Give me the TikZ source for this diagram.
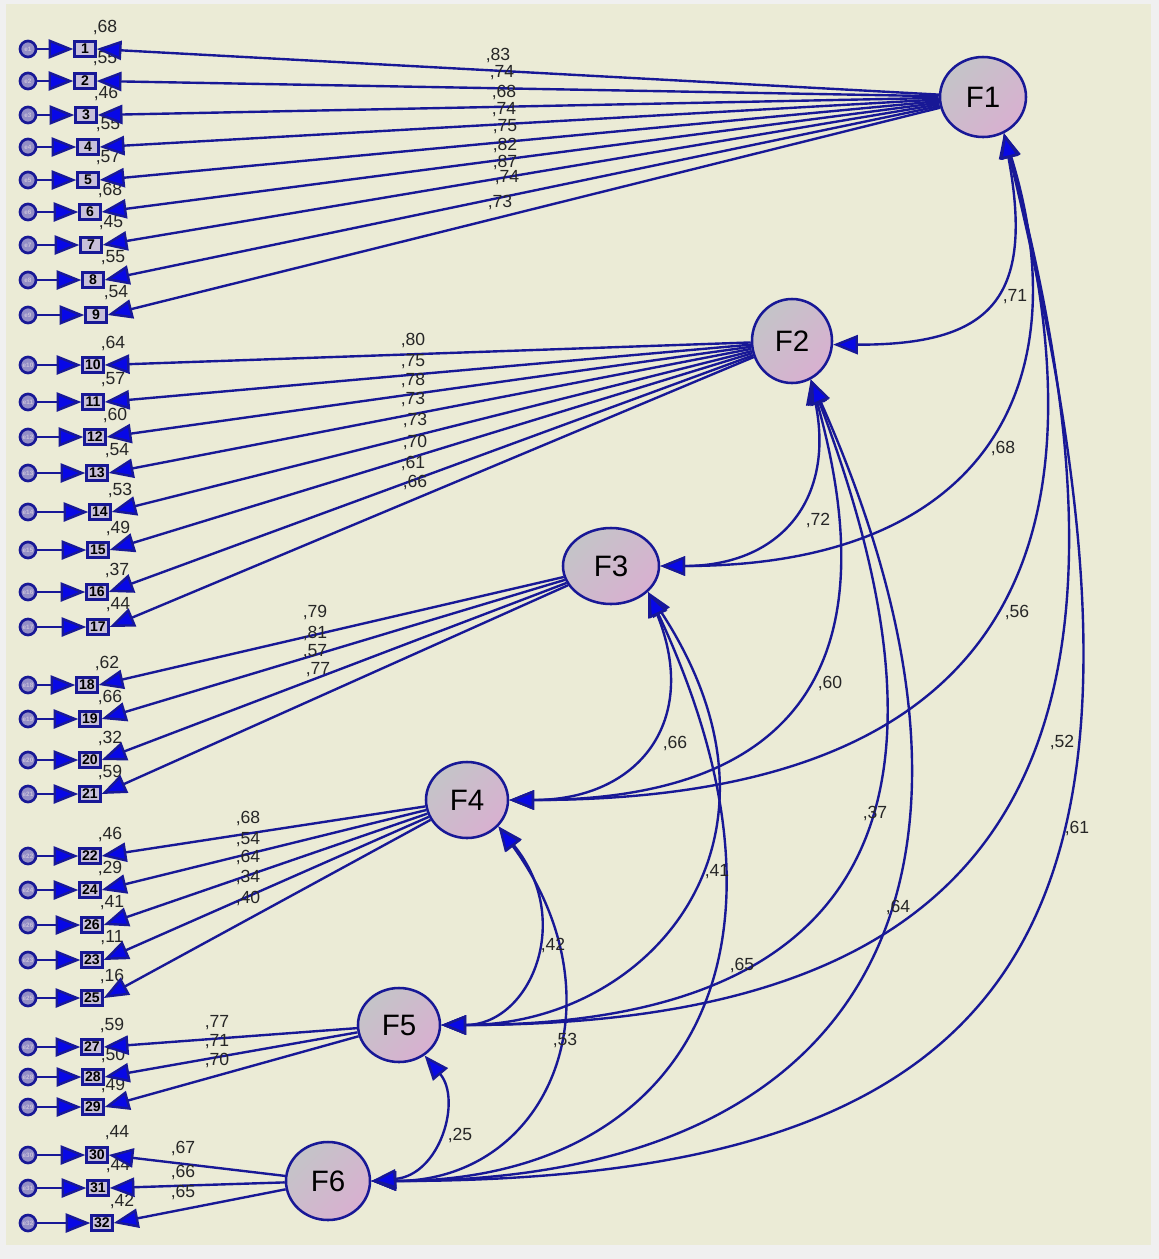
\documentclass[tikz,border=0pt]{standalone}
\usepackage{fontspec}
\setmainfont{Liberation Sans}
\usepackage{tikz}
\usetikzlibrary{arrows.meta, shapes.geometric}
\definecolor{amosBg}{RGB}{235,235,214}
\definecolor{amosRim}{RGB}{240,240,240}
\definecolor{amosLine}{RGB}{24,24,150}
\definecolor{amosTip}{RGB}{8,8,230}
\definecolor{amosBox}{RGB}{200,192,218}
\definecolor{facGray}{RGB}{196,196,200}
\definecolor{facPink}{RGB}{216,176,208}
\tikzset{
  link/.style={amosLine, line width=1.7pt, ->},
  cov/.style={amosLine, line width=1.7pt, <->},
  obsbox/.style={draw=amosLine, line width=1.8pt, fill=amosBox, minimum width=0.52cm,
    minimum height=0.38cm, inner sep=0pt, font=\fontsize{10}{10}\selectfont\bfseries},
  errnode/.style={circle, draw=amosLine, line width=1.9pt, fill=amosBox!70!amosLine, minimum size=0.4cm,
    inner sep=0pt, text=amosBox, font=\fontsize{4.5}{4.5}\selectfont\bfseries},
  factor/.style={ellipse, draw=amosLine, line width=1.8pt, top color=facGray, bottom color=facPink,
    shading angle=45, inner sep=0pt, font=\fontsize{21}{21}\selectfont},
  est/.style={inner sep=0pt, text=black!85, font=\fontsize{12.5}{13}\selectfont}
}

\begin{document}
\begin{tikzpicture}[x=0.025cm, y=0.025cm, >={Triangle[length=0.62cm, width=0.48cm, fill=amosTip]}]
\useasboundingbox (0,0) rectangle (1159,-1259);
\fill[amosRim] (0,0) rectangle (1159,-1259);
\fill[amosBg] (6,-4) rectangle (1151,-1245);
% latent factors
\node[factor, minimum width=2.15cm, minimum height=2.0cm] (F1) at (983,-97) {F1};
\node[factor, minimum width=2.0cm, minimum height=2.1cm] (F2) at (792,-341) {F2};
\node[factor, minimum width=2.4cm, minimum height=1.9cm] (F3) at (611,-566) {F3};
\node[factor, minimum width=2.05cm, minimum height=1.9cm] (F4) at (467,-800) {F4};
\node[factor, minimum width=2.05cm, minimum height=1.85cm] (F5) at (399,-1025) {F5};
\node[factor, minimum width=2.1cm, minimum height=1.95cm] (F6) at (328,-1181) {F6};
% items, error terms and squared multiple correlations
\foreach \n/\px/\py/\r in {1/85/49/68, 2/85/81/55, 3/86/115/46, 4/88/147/55, 5/88/180/57,
    6/90/212/68, 7/91/245/45, 8/93/280/55, 9/96/315/54,
    10/93/365/64, 11/93/402/57, 12/95/437/60, 13/97/473/54, 14/100/512/53, 15/98/550/49,
    16/97/592/37, 17/98/627/44,
    18/87/685/62, 19/90/719/66, 20/90/760/32, 21/90/794/59,
    22/90/856/46, 24/90/890/29, 26/92/925/41, 23/92/960/11, 25/92/998/16,
    27/92/1047/59, 28/93/1077/50, 29/93/1107/49,
    30/97/1155/44, 31/98/1188/44, 32/102/1223/42} {
  \node[obsbox] (v\n) at (\px,-\py) {\n};
  \node[errnode] (e\n) at (28,-\py) {e\n};
  \draw[link] (e\n) -- (v\n);
  \node[est] (r\n) at (\px+20,-\py+22) {,\r};
}
% loadings
\foreach \f/\n/\lx/\ly/\l in {F1/1/498/55/83, F1/2/502/73/74, F1/3/504/92/68, F1/4/504/110/74,
    F1/5/505/127/75, F1/6/505/145/82, F1/7/505/162/87, F1/8/507/178/74, F1/9/500/202/73,
    F2/10/413/340/80, F2/11/413/362/75, F2/12/413/380/78, F2/13/413/399/73, F2/14/415/420/73,
    F2/15/415/442/70, F2/16/413/463/61, F2/17/415/482/66,
    F3/18/315/612/79, F3/19/315/633/81, F3/20/315/652/57, F3/21/318/670/77,
    F4/22/248/818/68, F4/24/248/840/54, F4/26/248/857/64, F4/23/248/877/34, F4/25/248/898/40,
    F5/27/217/1023/77, F5/28/217/1042/71, F5/29/217/1060/70,
    F6/30/183/1148/67, F6/31/183/1172/66, F6/32/183/1192/65} {
  \draw[link] (\f) -- (v\n.east);
  \node[est] (l\n) at (\lx,-\ly) {,\l};
}
% covariances
\draw[cov] (F1.-60) .. controls (1035,-300) and (990,-345) .. (F2.-5);
\draw[cov] (F1.-60) .. controls (1080,-380) and (990,-566) .. (F3.east);
\draw[cov] (F1.-60) .. controls (1120,-560) and (1000,-800) .. (F4.east);
\draw[cov] (F1.-60) .. controls (1170,-760) and (1010,-1025) .. (F5.east);
\draw[cov] (F1.-60) .. controls (1190,-900) and (1060,-1181) .. (F6.east);
\draw[cov] (F2.-64) .. controls (835,-500) and (780,-566) .. (F3.east);
\draw[cov] (F2.-64) .. controls (900,-700) and (760,-800) .. (F4.east);
\draw[cov] (F2.-64) .. controls (970,-800) and (880,-1025) .. (F5.east);
\draw[cov] (F2.-64) .. controls (1020,-850) and (900,-1181) .. (F6.east);
\draw[cov] (F3.-35) .. controls (700,-720) and (640,-800) .. (F4.east);
\draw[cov] (F3.-35) .. controls (810,-840) and (650,-1025) .. (F5.east);
\draw[cov] (F3.-35) .. controls (820,-960) and (680,-1181) .. (F6.east);
\draw[cov] (F4.-40) .. controls (575,-920) and (530,-1025) .. (F5.east);
\draw[cov] (F4.-40) .. controls (625,-1000) and (550,-1181) .. (F6.east);
\draw[cov] (F5.-50) .. controls (462,-1100) and (440,-1175) .. (F6.east);
\node[est] (c12) at (1015,-297) {,71};
\node[est] (c13) at (1003,-448) {,68};
\node[est] (c14) at (1017,-612) {,56};
\node[est] (c15) at (1062,-742) {,52};
\node[est] (c16) at (1077,-828) {,61};
\node[est] (c23) at (818,-520) {,72};
\node[est] (c24) at (830,-683) {,60};
\node[est] (c25) at (875,-813) {,37};
\node[est] (c26) at (898,-907) {,64};
\node[est] (c34) at (675,-743) {,66};
\node[est] (c35) at (717,-872) {,41};
\node[est] (c36) at (742,-965) {,65};
\node[est] (c45) at (553,-945) {,42};
\node[est] (c46) at (565,-1040) {,53};
\node[est] (c56) at (460,-1135) {,25};
\end{tikzpicture}
\end{document}
